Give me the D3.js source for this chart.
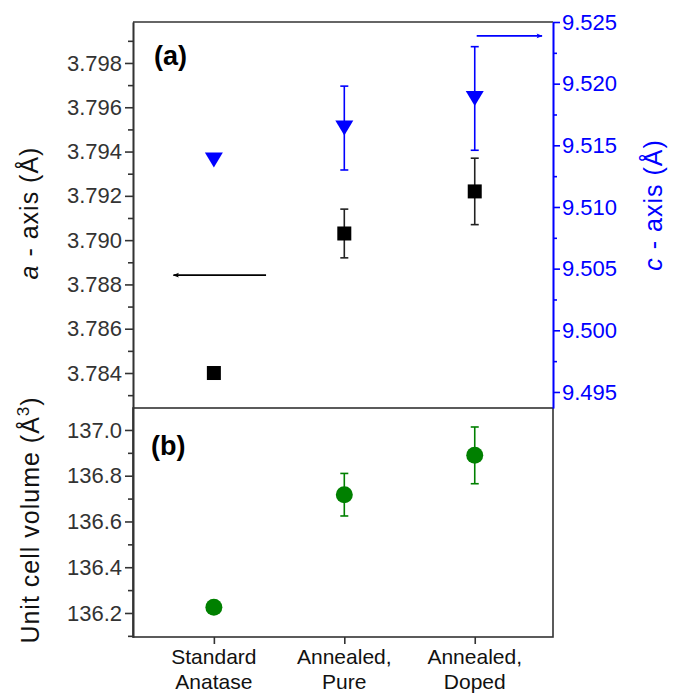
<!DOCTYPE html>
<html><head><meta charset="utf-8">
<script src="https://cdn.jsdelivr.net/npm/d3@7"></script>
<style>body{margin:0;background:#fff}svg{display:block}text{font-family:"Liberation Sans",Arial,sans-serif}</style>
</head><body><svg id="c" width="678" height="696"></svg>
<script>
const categories = ["Standard|Anatase", "Annealed,|Pure", "Annealed,|Doped"];
const aValues = [3.7840, 3.7903, 3.7922];
const aErrors = [0, 0.0011, 0.0015];
const cValues = [9.5138, 9.5164, 9.5188];
const cErrors = [0, 0.0034, 0.0042];
const volValues = [136.225, 136.717, 136.889];
const volErrors = [0, 0.093, 0.124];
const aTicks = [3.784, 3.786, 3.788, 3.790, 3.792, 3.794, 3.796, 3.798];
const cTicks = [9.495, 9.500, 9.505, 9.510, 9.515, 9.520, 9.525];
const volTicks = [136.2, 136.4, 136.6, 136.8, 137.0];

const svg = d3.select("#c");
const L = 133, R = 553, T1 = 22, B1 = 408, T2 = 408, B2 = 637;
const x = d3.scaleLinear().domain([-0.62, 2.6]).range([L, R]);
const ya = d3.scaleLinear().domain([3.78242, 3.79985]).range([B1, T1]);
const yc = d3.scaleLinear().domain([9.4937, 9.525]).range([B1, T1]);
const yv = d3.scaleLinear().domain([136.095, 137.096]).range([B2, T2]);
const idx = categories.map((d, i) => i);
const frameCol = "#333";
const fs = 22;

function styleAxis(g, col) {
  g.selectAll("path").attr("stroke", col).attr("stroke-width", 1.6);
  g.selectAll("line").attr("stroke", col).attr("stroke-width", 1.6);
  g.selectAll("text").attr("fill", col).attr("font-size", fs).attr("font-family", '"Liberation Sans",Arial,sans-serif');
}

svg.append("line").attr("x1", L).attr("x2", R).attr("y1", T1).attr("y2", T1).attr("stroke", frameCol).attr("stroke-width", 1.6);
svg.append("rect").attr("x", L).attr("y", T2).attr("width", R - L).attr("height", B2 - T2).attr("fill", "none").attr("stroke", frameCol).attr("stroke-width", 1.6);

const aMinor = [3.783, 3.785, 3.787, 3.789, 3.791, 3.793, 3.795, 3.797, 3.799];
svg.append("g").attr("transform", `translate(${L},0)`).call(d3.axisLeft(ya).tickValues(aMinor).tickFormat("").tickSize(5).tickSizeOuter(0)).call(g => styleAxis(g, frameCol));
svg.append("g").attr("transform", `translate(${L},0)`).call(d3.axisLeft(ya).tickValues(aTicks).tickFormat(d3.format(".3f")).tickSize(8).tickSizeOuter(0).tickPadding(3)).call(g => styleAxis(g, frameCol));

const cMinor = [9.4975, 9.5025, 9.5075, 9.5125, 9.5175, 9.5225];
svg.append("g").attr("transform", `translate(${R},0)`).call(d3.axisRight(yc).tickValues(cMinor).tickFormat("").tickSize(4).tickSizeOuter(0)).call(g => styleAxis(g, "#0000ff"));
svg.append("g").attr("transform", `translate(${R},0)`).call(d3.axisRight(yc).tickValues(cTicks).tickFormat(d3.format(".3f")).tickSize(7).tickSizeOuter(0).tickPadding(2)).call(g => styleAxis(g, "#0000ff"));

const vMinor = [136.1, 136.3, 136.5, 136.7, 136.9];
svg.append("g").attr("transform", `translate(${L},0)`).call(d3.axisLeft(yv).tickValues(vMinor).tickFormat("").tickSize(5).tickSizeOuter(0)).call(g => styleAxis(g, frameCol));
svg.append("g").attr("transform", `translate(${L},0)`).call(d3.axisLeft(yv).tickValues(volTicks).tickFormat(d3.format(".1f")).tickSize(8).tickSizeOuter(0).tickPadding(3)).call(g => styleAxis(g, frameCol));

const xg = svg.append("g").attr("transform", `translate(0,${B2})`).call(d3.axisBottom(x).tickValues(idx).tickFormat("").tickSize(7).tickSizeOuter(0));
styleAxis(xg, frameCol);
xg.select("path").remove();
idx.forEach(i => {
  const parts = categories[i].split("|");
  const t = svg.append("text").attr("x", x(i)).attr("text-anchor", "middle").attr("font-size", 21).attr("fill", "#111");
  t.append("tspan").attr("x", x(i)).attr("y", 664).text(parts[0]);
  t.append("tspan").attr("x", x(i)).attr("y", 689).text(parts[1]);
});

function errorBars(vals, errs, ys, col) {
  const g = svg.append("g").attr("stroke", col).attr("stroke-width", 1.6);
  idx.filter(i => errs[i] > 0).forEach(i => {
    const cx = x(i), y1 = ys(vals[i] + errs[i]), y2 = ys(vals[i] - errs[i]);
    g.append("line").attr("x1", cx).attr("x2", cx).attr("y1", y1).attr("y2", y2);
    g.append("line").attr("x1", cx - 4).attr("x2", cx + 4).attr("y1", y1).attr("y2", y1);
    g.append("line").attr("x1", cx - 4).attr("x2", cx + 4).attr("y1", y2).attr("y2", y2);
  });
}
errorBars(aValues, aErrors, ya, "#222");
errorBars(cValues, cErrors, yc, "#0000ff");
errorBars(volValues, volErrors, yv, "#008000");

svg.append("g").selectAll("rect").data(idx).join("rect")
  .attr("x", i => x(i) - 7).attr("y", i => ya(aValues[i]) - 7).attr("width", 14).attr("height", 14).attr("fill", "#000");
svg.append("g").selectAll("path").data(idx).join("path")
  .attr("d", i => { const cx = x(i), cy = yc(cValues[i]); return `M${cx - 9},${cy - 7.5}L${cx + 9},${cy - 7.5}L${cx},${cy + 7.5}Z`; })
  .attr("fill", "#0000ff");
svg.append("g").selectAll("circle").data(idx).join("circle")
  .attr("cx", i => x(i)).attr("cy", i => yv(volValues[i])).attr("r", 8.5).attr("fill", "#008000");

const defs = svg.append("defs");
function marker(id, col) {
  defs.append("marker").attr("id", id).attr("viewBox", "0 0 10 10").attr("refX", 9).attr("refY", 5)
    .attr("markerWidth", 9).attr("markerHeight", 6).attr("orient", "auto-start-reverse").attr("markerUnits", "userSpaceOnUse")
    .append("path").attr("d", "M0,1L10,5L0,9L2,5Z").attr("fill", col);
}
marker("mk", "#000"); marker("mb", "#0000ff");
svg.append("line").attr("x1", x(0.40)).attr("x2", x(-0.31)).attr("y1", ya(3.78842)).attr("y2", ya(3.78842))
  .attr("stroke", "#000").attr("stroke-width", 1.8).attr("marker-end", "url(#mk)");
svg.append("line").attr("x1", x(2.015)).attr("x2", x(2.516)).attr("y1", yc(9.52387)).attr("y2", yc(9.52387))
  .attr("stroke", "#0000ff").attr("stroke-width", 1.8).attr("marker-end", "url(#mb)");

svg.append("text").attr("x", 154).attr("y", 65).attr("font-size", 27).attr("font-weight", "bold").text("(a)");
svg.append("text").attr("x", 151).attr("y", 455).attr("font-size", 27).attr("font-weight", "bold").text("(b)");

const ta = svg.append("text").attr("transform", "translate(38,213) rotate(-90)").attr("text-anchor", "middle").attr("font-size", 25).attr("letter-spacing", 1).attr("fill", "#111");
ta.append("tspan").attr("font-style", "italic").text("a");
ta.append("tspan").text(" - axis (Å)");
const tc = svg.append("text").attr("transform", "translate(662,205) rotate(-90)").attr("text-anchor", "middle").attr("font-size", 25).attr("letter-spacing", 1).attr("fill", "#0000ff");
tc.append("tspan").attr("font-style", "italic").text("c");
tc.append("tspan").text(" - axis (Å)");
const tv = svg.append("text").attr("transform", "translate(39,520) rotate(-90)").attr("text-anchor", "middle").attr("font-size", 25).attr("letter-spacing", 1).attr("fill", "#111");
tv.append("tspan").text("Unit cell volume (Å");
tv.append("tspan").attr("font-size", 17).attr("dy", -10).text("3");
tv.append("tspan").attr("dy", 10).text(")");
</script></body></html>
